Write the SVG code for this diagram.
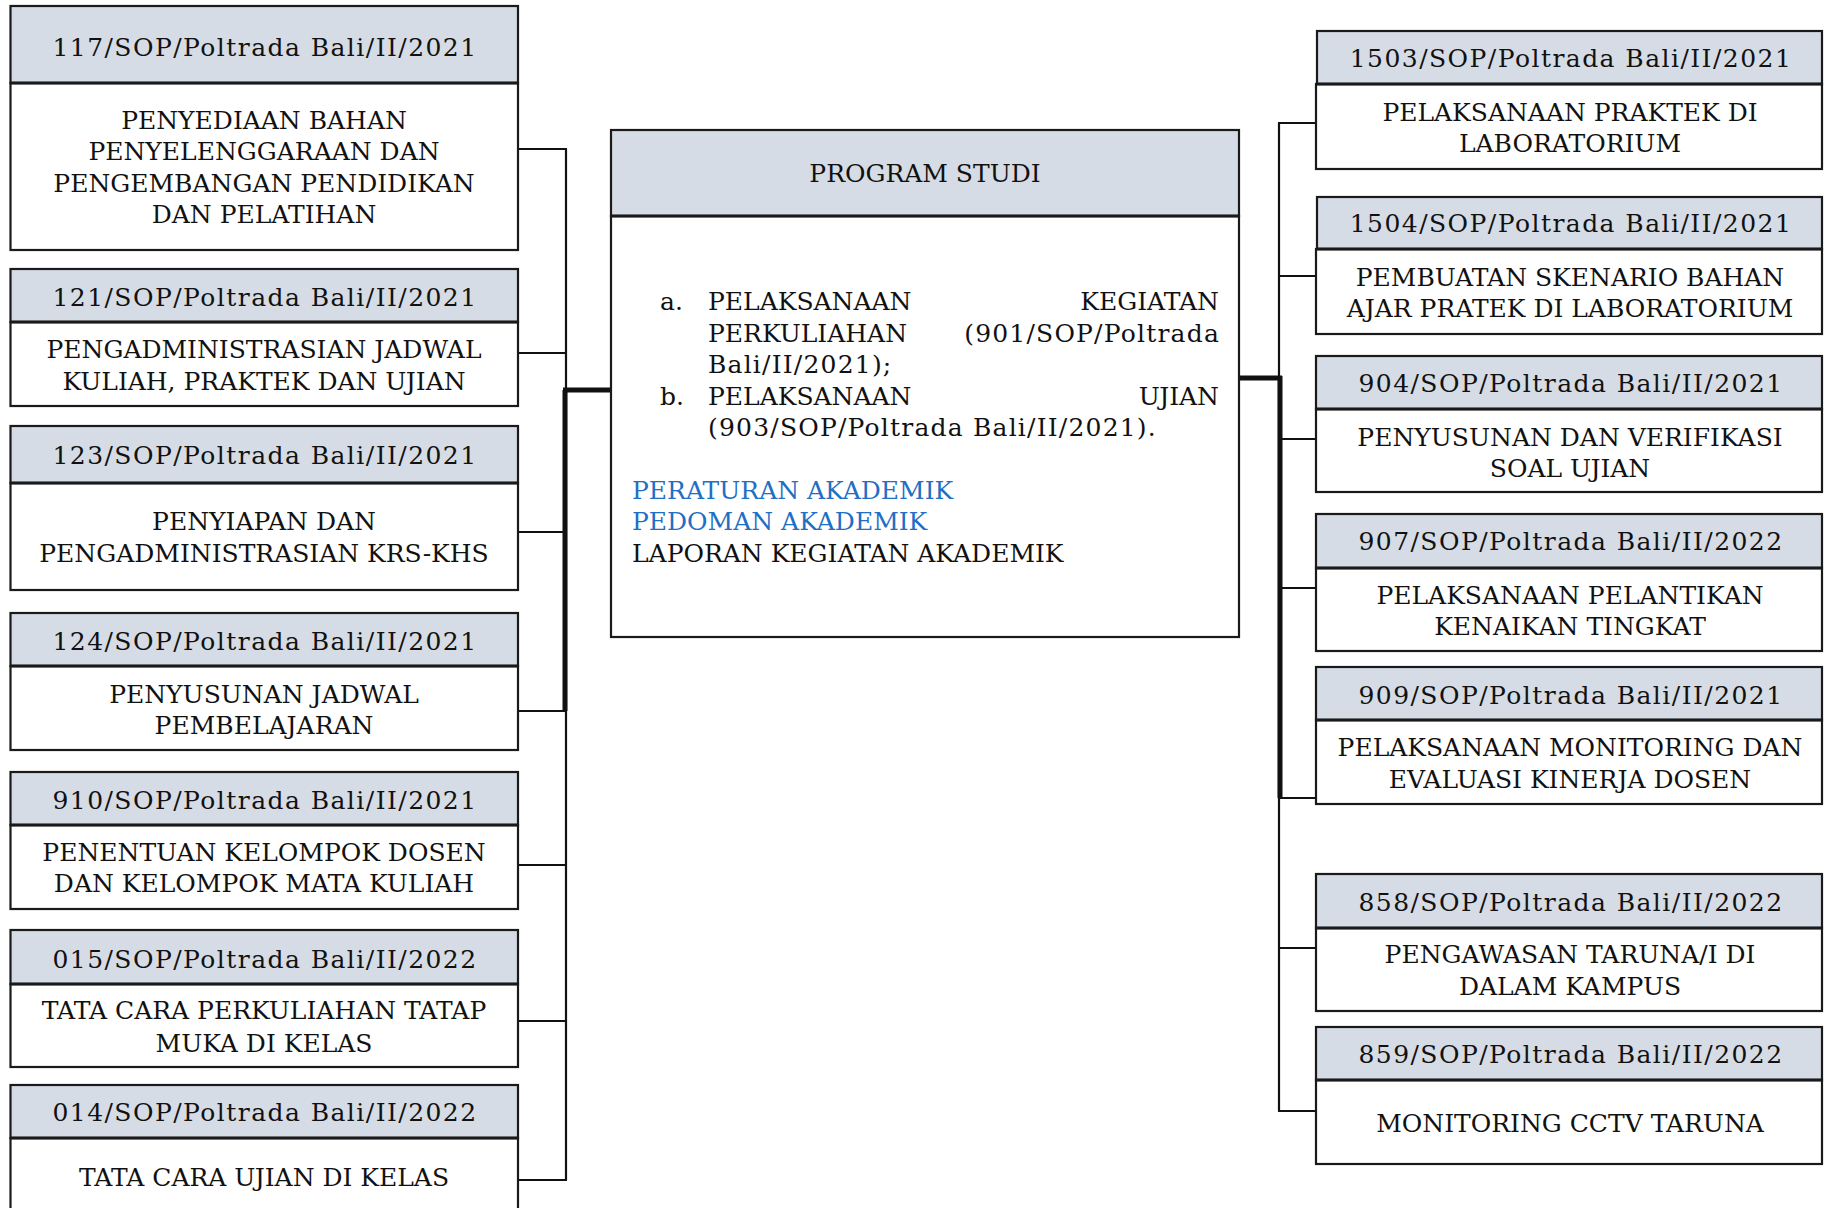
<svg xmlns="http://www.w3.org/2000/svg" width="1825" height="1208" viewBox="0 0 1825 1208">
<style>
  .hd { fill: #D6DCE5; stroke: #1a1a1a; stroke-width: 2.2; }
  .bd { fill: #FFFFFF; stroke: #1a1a1a; stroke-width: 2.2; }
  .sep { stroke: #1a1a1a; stroke-width: 3; }
  text { font-family: "DejaVu Serif", "Liberation Serif", serif; font-size: 25px; fill: #111; }
  .c { text-anchor: middle; }
  .code { letter-spacing: 1.45px; }
  .num { letter-spacing: 1.2px; }
  .e { text-anchor: end; }
  .blue { fill: #1F6FC5; }
  .ln { stroke: #111; stroke-width: 2.2; fill: none; }
  .thick { stroke: #111; stroke-width: 5; fill: none; }
</style>
<rect width="1825" height="1208" fill="#FFFFFF"/>

<g id="connectors">
  <line class="ln" x1="566" y1="149" x2="566" y2="1180"/>
  <line class="ln" x1="518" y1="149" x2="567" y2="149"/>
  <line class="ln" x1="518" y1="353" x2="567" y2="353"/>
  <line class="ln" x1="518" y1="532" x2="567" y2="532"/>
  <line class="ln" x1="518" y1="711" x2="567" y2="711"/>
  <line class="ln" x1="518" y1="865" x2="567" y2="865"/>
  <line class="ln" x1="518" y1="1021" x2="567" y2="1021"/>
  <line class="ln" x1="518" y1="1180" x2="567" y2="1180"/>
  <line class="thick" x1="565" y1="390" x2="565" y2="711"/>
  <line class="thick" x1="563" y1="390" x2="617" y2="390"/>

  <line class="ln" x1="1279" y1="123" x2="1279" y2="1111"/>
  <line class="ln" x1="1278" y1="123" x2="1316" y2="123"/>
  <line class="ln" x1="1278" y1="276" x2="1316" y2="276"/>
  <line class="ln" x1="1278" y1="439" x2="1316" y2="439"/>
  <line class="ln" x1="1278" y1="588" x2="1316" y2="588"/>
  <line class="ln" x1="1278" y1="798" x2="1316" y2="798"/>
  <line class="ln" x1="1278" y1="948" x2="1316" y2="948"/>
  <line class="ln" x1="1278" y1="1111" x2="1316" y2="1111"/>
  <line class="thick" x1="1280" y1="376" x2="1280" y2="798"/>
  <line class="thick" x1="1234" y1="378" x2="1282" y2="378"/>
</g>

<g id="center">
  <rect class="bd" x="611" y="216" width="628" height="421"/>
  <rect class="hd" x="611" y="130" width="628" height="86"/>
  <line class="sep" x1="611" y1="216" x2="1239" y2="216"/>
  <text class="c" x="925" y="182">PROGRAM STUDI</text>
  <text x="660" y="310">a.</text>
  <text x="708" y="310">PELAKSANAAN</text>
  <text class="e" x="1219" y="310">KEGIATAN</text>
  <text x="708" y="342">PERKULIAHAN</text>
  <text class="e num" x="1220" y="342">(901/SOP/Poltrada</text>
  <text class="num" x="708" y="373">Bali/II/2021);</text>
  <text x="660" y="405">b.</text>
  <text x="708" y="405">PELAKSANAAN</text>
  <text class="e" x="1219" y="405">UJIAN</text>
  <text class="num" x="708" y="436">(903/SOP/Poltrada Bali/II/2021).</text>
  <text class="blue" x="632" y="499">PERATURAN AKADEMIK</text>
  <text class="blue" x="632" y="530">PEDOMAN AKADEMIK</text>
  <text x="632" y="562">LAPORAN KEGIATAN AKADEMIK</text>
</g>

<g id="L1">
  <rect class="bd" x="10.5" y="83" width="507.5" height="167"/>
  <rect class="hd" x="10.5" y="6" width="507.5" height="77"/>
  <line class="sep" x1="10.5" y1="83" x2="518" y2="83"/>
  <text class="c code" x="265" y="56">117/SOP/Poltrada Bali/II/2021</text>
  <text class="c" x="264" y="129">PENYEDIAAN BAHAN</text>
  <text class="c" x="264" y="160">PENYELENGGARAAN DAN</text>
  <text class="c" x="264" y="192">PENGEMBANGAN PENDIDIKAN</text>
  <text class="c" x="264" y="223">DAN PELATIHAN</text>
</g>
<g id="L2">
  <rect class="bd" x="10.5" y="322" width="507.5" height="84"/>
  <rect class="hd" x="10.5" y="269" width="507.5" height="53"/>
  <line class="sep" x1="10.5" y1="322" x2="518" y2="322"/>
  <text class="c code" x="265" y="306">121/SOP/Poltrada Bali/II/2021</text>
  <text class="c" x="264" y="358">PENGADMINISTRASIAN JADWAL</text>
  <text class="c" x="264" y="390">KULIAH, PRAKTEK DAN UJIAN</text>
</g>
<g id="L3">
  <rect class="bd" x="10.5" y="483" width="507.5" height="107"/>
  <rect class="hd" x="10.5" y="426" width="507.5" height="57"/>
  <line class="sep" x1="10.5" y1="483" x2="518" y2="483"/>
  <text class="c code" x="265" y="464">123/SOP/Poltrada Bali/II/2021</text>
  <text class="c" x="264" y="530">PENYIAPAN DAN</text>
  <text class="c" x="264" y="562">PENGADMINISTRASIAN KRS-KHS</text>
</g>
<g id="L4">
  <rect class="bd" x="10.5" y="666" width="507.5" height="84"/>
  <rect class="hd" x="10.5" y="613" width="507.5" height="53"/>
  <line class="sep" x1="10.5" y1="666" x2="518" y2="666"/>
  <text class="c code" x="265" y="650">124/SOP/Poltrada Bali/II/2021</text>
  <text class="c" x="264" y="703">PENYUSUNAN JADWAL</text>
  <text class="c" x="264" y="734">PEMBELAJARAN</text>
</g>
<g id="L5">
  <rect class="bd" x="10.5" y="825" width="507.5" height="84"/>
  <rect class="hd" x="10.5" y="772" width="507.5" height="53"/>
  <line class="sep" x1="10.5" y1="825" x2="518" y2="825"/>
  <text class="c code" x="265" y="809">910/SOP/Poltrada Bali/II/2021</text>
  <text class="c" x="264" y="861">PENENTUAN KELOMPOK DOSEN</text>
  <text class="c" x="264" y="892">DAN KELOMPOK MATA KULIAH</text>
</g>
<g id="L6">
  <rect class="bd" x="10.5" y="984" width="507.5" height="83"/>
  <rect class="hd" x="10.5" y="930" width="507.5" height="54"/>
  <line class="sep" x1="10.5" y1="984" x2="518" y2="984"/>
  <text class="c code" x="265" y="968">015/SOP/Poltrada Bali/II/2022</text>
  <text class="c" x="264" y="1019">TATA CARA PERKULIAHAN TATAP</text>
  <text class="c" x="264" y="1052">MUKA DI KELAS</text>
</g>
<g id="L7">
  <rect class="bd" x="10.5" y="1138" width="507.5" height="80"/>
  <rect class="hd" x="10.5" y="1085" width="507.5" height="53"/>
  <line class="sep" x1="10.5" y1="1138" x2="518" y2="1138"/>
  <text class="c code" x="265" y="1121">014/SOP/Poltrada Bali/II/2022</text>
  <text class="c" x="264" y="1186">TATA CARA UJIAN DI KELAS</text>
</g>

<g id="R1">
  <rect class="bd" x="1316" y="84" width="506" height="85"/>
  <rect class="hd" x="1317" y="31" width="505" height="53"/>
  <line class="sep" x1="1316" y1="84" x2="1822" y2="84"/>
  <text class="c code" x="1571" y="67">1503/SOP/Poltrada Bali/II/2021</text>
  <text class="c" x="1570" y="121">PELAKSANAAN PRAKTEK DI</text>
  <text class="c" x="1570" y="152">LABORATORIUM</text>
</g>
<g id="R2">
  <rect class="bd" x="1316" y="249" width="506" height="85"/>
  <rect class="hd" x="1317" y="197" width="505" height="52"/>
  <line class="sep" x1="1316" y1="249" x2="1822" y2="249"/>
  <text class="c code" x="1571" y="232">1504/SOP/Poltrada Bali/II/2021</text>
  <text class="c" x="1570" y="286">PEMBUATAN SKENARIO BAHAN</text>
  <text class="c" x="1570" y="317">AJAR PRATEK DI LABORATORIUM</text>
</g>
<g id="R3">
  <rect class="bd" x="1316" y="409" width="506" height="83"/>
  <rect class="hd" x="1316" y="356" width="506" height="53"/>
  <line class="sep" x1="1316" y1="409" x2="1822" y2="409"/>
  <text class="c code" x="1571" y="392">904/SOP/Poltrada Bali/II/2021</text>
  <text class="c" x="1570" y="446">PENYUSUNAN DAN VERIFIKASI</text>
  <text class="c" x="1570" y="477">SOAL UJIAN</text>
</g>
<g id="R4">
  <rect class="bd" x="1316" y="568" width="506" height="83"/>
  <rect class="hd" x="1316" y="514" width="506" height="54"/>
  <line class="sep" x1="1316" y1="568" x2="1822" y2="568"/>
  <text class="c code" x="1571" y="550">907/SOP/Poltrada Bali/II/2022</text>
  <text class="c" x="1570" y="604">PELAKSANAAN PELANTIKAN</text>
  <text class="c" x="1570" y="635">KENAIKAN TINGKAT</text>
</g>
<g id="R5">
  <rect class="bd" x="1316" y="720" width="506" height="84"/>
  <rect class="hd" x="1316" y="667" width="506" height="53"/>
  <line class="sep" x1="1316" y1="720" x2="1822" y2="720"/>
  <text class="c code" x="1571" y="704">909/SOP/Poltrada Bali/II/2021</text>
  <text class="c" x="1570" y="756">PELAKSANAAN MONITORING DAN</text>
  <text class="c" x="1570" y="788">EVALUASI KINERJA DOSEN</text>
</g>
<g id="R6">
  <rect class="bd" x="1316" y="928" width="506" height="83"/>
  <rect class="hd" x="1316" y="874" width="506" height="54"/>
  <line class="sep" x1="1316" y1="928" x2="1822" y2="928"/>
  <text class="c code" x="1571" y="911">858/SOP/Poltrada Bali/II/2022</text>
  <text class="c" x="1570" y="963">PENGAWASAN TARUNA/I DI</text>
  <text class="c" x="1570" y="995">DALAM KAMPUS</text>
</g>
<g id="R7">
  <rect class="bd" x="1316" y="1080" width="506" height="84"/>
  <rect class="hd" x="1316" y="1027" width="506" height="53"/>
  <line class="sep" x1="1316" y1="1080" x2="1822" y2="1080"/>
  <text class="c code" x="1571" y="1063">859/SOP/Poltrada Bali/II/2022</text>
  <text class="c" x="1570" y="1132">MONITORING CCTV TARUNA</text>
</g>
</svg>
